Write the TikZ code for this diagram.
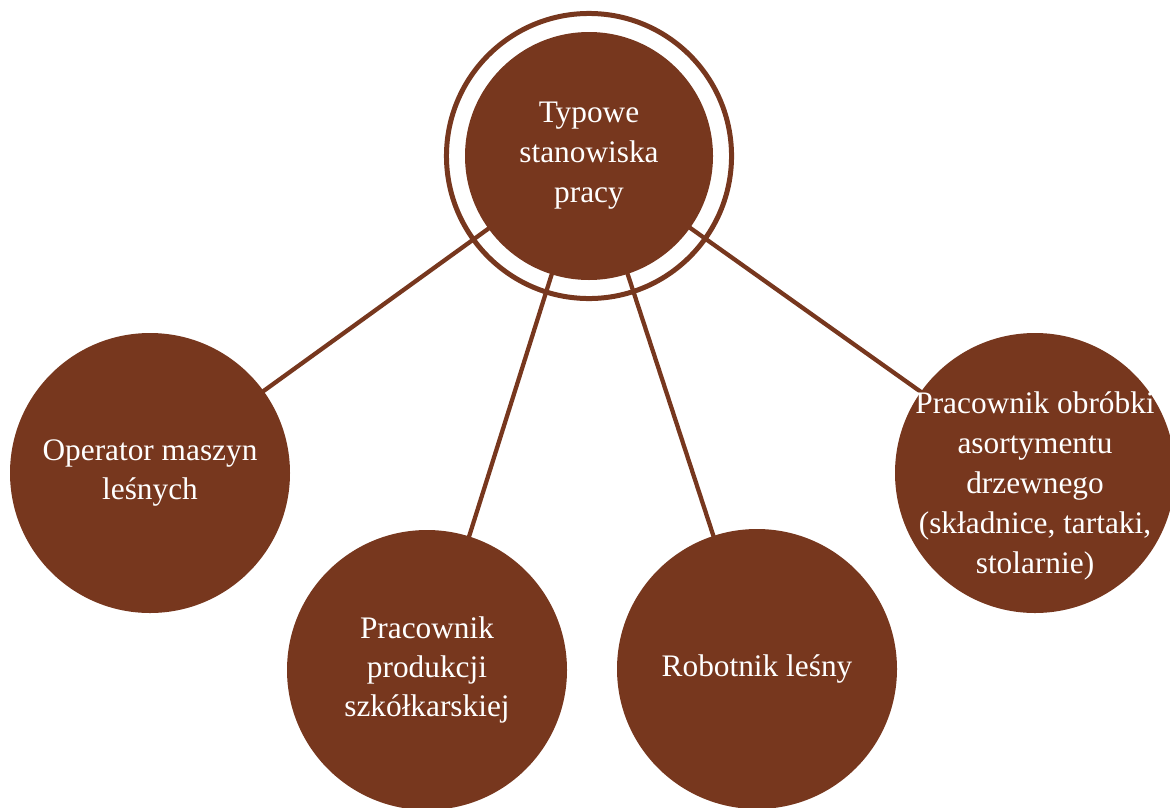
\documentclass[tikz,border=0pt]{standalone}
\usepackage{fontspec}
\setmainfont{Liberation Serif}
\usepackage{tikz}
\usetikzlibrary{shapes.geometric, backgrounds}
\definecolor{bark}{RGB}{119,55,30}
\tikzstyle{job} = [circle, fill=bark, text=white, minimum size=210pt, inner sep=0pt, align=center, font=\fontsize{23.5}{29.5}\selectfont]
\tikzstyle{core} = [job, minimum size=186pt, font=\fontsize{23.5}{30}\selectfont]
\tikzstyle{jobtext} = [text=white, align=center, font=\fontsize{23.5}{30}\selectfont]
\tikzstyle{ring} = [draw=bark, line width=3.75pt]
\tikzstyle{link} = [draw=bark, line width=3.2pt]

\begin{document}
\begin{tikzpicture}[x=0.75pt, y=-0.75pt]
        \useasboundingbox (0,0) rectangle (1170,807);
        \node (hub) [core] at (589,156) {Typowe\\stanowiska\\pracy};
        \draw [ring] (hub.center) circle [radius=106.9pt];
        \node (operator) [job] at (150,473) {Operator maszyn\\leśnych};
        \node (nursery) [job] at (427,670) {Pracownik\\produkcji\\szkółkarskiej};
        \node (worker) [job] at (757,669) {Robotnik leśny};
        \node (sawmill) [job] at (1035,473) {};
        \node (sawmilltext) [jobtext] at ([yshift=-10pt]sawmill.center) {Pracownik obróbki\\asortymentu\\drzewnego\\(składnice, tartaki,\\stolarnie)};
        \begin{scope}[on background layer]
            \draw [link] (hub.center) -- (operator.center);
            \draw [link] (hub.center) -- (nursery.center);
            \draw [link] (hub.center) -- (worker.center);
            \draw [link] (hub.center) -- (sawmill.center);
        \end{scope}
    \end{tikzpicture}
\end{document}
